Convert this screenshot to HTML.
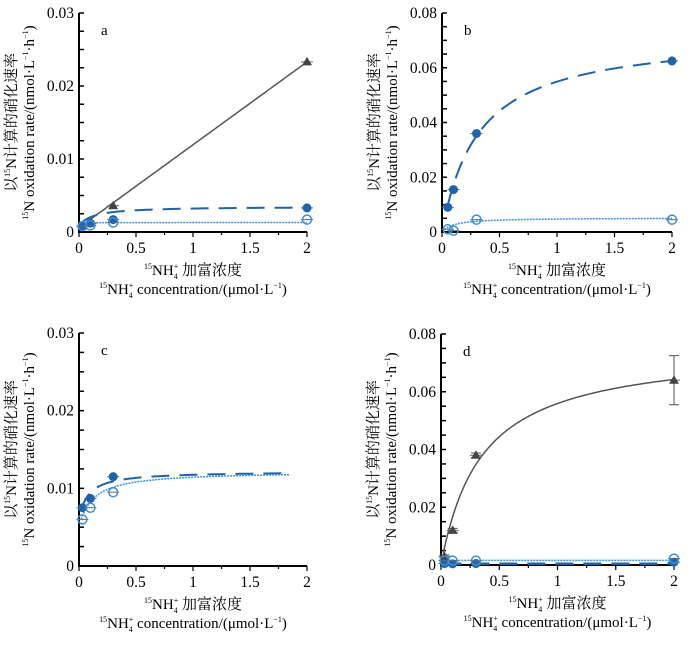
<!DOCTYPE html>
<html><head><meta charset="utf-8">
<style>
body{margin:0;background:#fff;}
svg{display:block;font-family:"Liberation Serif","Noto Serif CJK SC",serif;}
</style></head>
<body>
<svg id="chart" width="700" height="656" viewBox="0 0 700 656" xmlns="http://www.w3.org/2000/svg"></svg>
<script>
// Panel data (x: 15NH4+ concentration µmol/L, y: oxidation rate nmol/L/h)
const aTriX=[0.03,0.1,0.3,2];      const aTriY=[0.0008,0.0012,0.0036,0.0233];
const aFillX=[0.03,0.1,0.3,2];     const aFillY=[0.0008,0.0012,0.0017,0.0033];
const aOpenX=[0.03,0.1,0.3,2];     const aOpenY=[0.0008,0.0009,0.0013,0.0017];
const bFillX=[0.05,0.1,0.3,2];     const bFillY=[0.009,0.0155,0.036,0.0625];
const bOpenX=[0.05,0.1,0.3,2];     const bOpenY=[0.001,0.0005,0.0045,0.0045];
const cFillX=[0.03,0.1,0.3];       const cFillY=[0.0075,0.0087,0.0115];
const cOpenX=[0.03,0.1,0.3];       const cOpenY=[0.006,0.0075,0.0095];
const dTriX=[0.03,0.1,0.3,2];      const dTriY=[0.003,0.012,0.038,0.064];
const dTriErr=[0.0005,0.0007,0.0008,0.0085];
const dFillX=[0.03,0.1,0.3,2];     const dFillY=[0.0005,0.0004,0.0005,0.001];
const dOpenX=[0.03,0.1,0.3,2];     const dOpenY=[0.0015,0.0015,0.0015,0.0022];
const xTicks=[0,0.5,1,1.5,2];
const yTicksSmall=[0,0.01,0.02,0.03];
const yTicksLarge=[0,0.02,0.04,0.06,0.08];

const svg=document.getElementById('chart');
const NS='http://www.w3.org/2000/svg';
function mk(tag,attrs,parent){const e=document.createElementNS(NS,tag);for(const k in attrs)e.setAttribute(k,attrs[k]);(parent||svg).appendChild(e);return e;}
const BLUE='#1f64a8', LBLUE='#3d8fd6', GRAY='#555';

function panel(name,x0,x1,yTop,yBot,ymax,yticks,label){
  const g=mk('g',{});
  
  
  const sx=v=>x0+(x1-x0)*v/2, sy=v=>yBot-(yBot-yTop)*v/ymax;
  const ax=mk('path',{d:`M${x0},${yTop}V${yBot}H${x1}`,stroke:'#000','stroke-width':2,fill:'none'},g);
  
  
  const step=yticks[1]/4;
  for(let v=0;v<=ymax+1e-9;v+=step){const y=sy(v);mk('line',{x1:x0,x2:x0+5,y1:y,y2:y,stroke:'#000','stroke-width':1.5},g);}
  yticks.forEach(v=>{const t=mk('text',{x:x0-5,y:sy(v)+5,'text-anchor':'end','font-size':15.5},g);t.textContent=String(v);
    });
  for(let v=0;v<=2.001;v+=0.25){const x=sx(v);mk('line',{x1:x,x2:x,y1:yBot,y2:yBot+(Math.abs(v*2-Math.round(v*2))<1e-6?5:3),stroke:'#000','stroke-width':1.2},g);}
  xTicks.forEach(v=>{const t=mk('text',{x:sx(v),y:yBot+21,'text-anchor':'middle','font-size':15.5},g);t.textContent=String(v);
    });
  const pl=mk('text',{x:x0+22,y:yTop+22,'font-size':15},g);pl.textContent=label;
  
  const cx=(x0+x1)/2;
  const t1=mk('text',{x:cx,y:yBot+43,'text-anchor':'middle','font-size':15},g);
  t1.innerHTML='<tspan font-size="8" dy="-6">15</tspan><tspan dy="6">NH</tspan><tspan font-size="8" dy="4">4</tspan><tspan font-size="8" dx="-4" dy="-10">+</tspan><tspan dy="6"> 加富浓度</tspan>';
  
  const t2=mk('text',{x:cx,y:yBot+62,'text-anchor':'middle','font-size':15},g);
  t2.innerHTML='<tspan font-size="8" dy="-6">15</tspan><tspan dy="6">NH</tspan><tspan font-size="8" dy="4">4</tspan><tspan font-size="8" dx="-4" dy="-10">+</tspan><tspan dy="6"> concentration/(μmol·L</tspan><tspan font-size="8" dy="-6">−1</tspan><tspan dy="6">)</tspan>';
  
  const my=(yTop+yBot)/2, lx=x0-63;
  const y1=mk('text',{x:0,y:0,'text-anchor':'middle','font-size':15,transform:`translate(${lx},${my}) rotate(-90)`},g);
  y1.innerHTML='以<tspan font-size="8" dy="-6">15</tspan><tspan dy="6">N计算的硝化速率</tspan>';
  
  const y2=mk('text',{x:0,y:0,'text-anchor':'middle','font-size':15,transform:`translate(${lx+18},${my}) rotate(-90)`},g);
  y2.innerHTML='<tspan font-size="8" dy="-6">15</tspan><tspan dy="6">N oxidation rate/(nmol·L</tspan><tspan font-size="8" dy="-6">−1</tspan><tspan dy="6">·h</tspan><tspan font-size="8" dy="-6">−1</tspan><tspan dy="6">)</tspan>';
  
  return {g,sx,sy};
}
function curve(P,f,xa,xb,color,dash,w,name){
  let d='';for(let i=0;i<=100;i++){const x=xa+(xb-xa)*i/100;d+=(i?'L':'M')+P.sx(x).toFixed(1)+','+P.sy(f(x)).toFixed(1);}
  const p=mk('path',{d,stroke:color,'stroke-width':w,fill:'none','stroke-dasharray':dash},P.g);
  
}
function pts(P,xs,ys,kind,name,errs){
  xs.forEach((x,i)=>{
    const cx=P.sx(x), cy=P.sy(ys[i]);
    mk('line',{x1:cx-6,x2:cx+6,y1:cy,y2:cy,stroke:'#666','stroke-width':1},P.g);
    if(errs){const e=P.sy(ys[i]+errs[i]),e2=P.sy(ys[i]-errs[i]);mk('path',{d:`M${cx},${e}V${e2}M${cx-5},${e}H${cx+5}M${cx-5},${e2}H${cx+5}`,stroke:'#555',fill:'none'},P.g);}
    let m;
    if(kind==='tri') m=mk('path',{d:`M${cx},${cy-5}L${cx+5},${cy+3.5}L${cx-5},${cy+3.5}Z`,fill:'#444'},P.g);
    else if(kind==='fill') m=mk('circle',{cx,cy,r:4.5,fill:BLUE},P.g);
    else m=mk('circle',{cx,cy,r:4.5,fill:'none',stroke:LBLUE,'stroke-width':1.5},P.g);
    
  });
}
const mm=(V,K)=>x=>V*x/(K+x);
let P=panel('a',79,307,13,232,0.03,yTicksSmall,'a');
curve(P,x=>0.0006+0.01135*x,0.02,2,GRAY,'',1.5,'a-triangle-fit');
curve(P,x=>0.0008+mm(0.0027,0.12)(x),0.02,2,BLUE,'18,10',2,'a-filled-fit');
curve(P,x=>0.0012+0.0001*x/(0.05+x),0.02,2,LBLUE,'2,1',1.5,'a-open-fit');
pts(P,aTriX,aTriY,'tri','a-triangle');pts(P,aFillX,aFillY,'fill','a-filled');pts(P,aOpenX,aOpenY,'open','a-open');
P=panel('b',442,672,13,232,0.08,yTicksLarge,'b');
curve(P,mm(0.0725,0.32),0.05,2,BLUE,'18,10',2,'b-filled-fit');
curve(P,mm(0.0052,0.1),0.02,2,LBLUE,'2,1',1.5,'b-open-fit');
pts(P,bFillX,bFillY,'fill','b-filled');pts(P,bOpenX,bOpenY,'open','b-open');
P=panel('c',79,307,333,566,0.03,yTicksSmall,'c');
curve(P,x=>0.006+mm(0.0062,0.08)(x),0.02,1.85,BLUE,'18,10',2,'c-filled-fit');
curve(P,x=>0.005+mm(0.0072,0.12)(x),0.02,1.85,LBLUE,'2,1',1.5,'c-open-fit');
pts(P,cFillX,cFillY,'fill','c-filled');pts(P,cOpenX,cOpenY,'open','c-open');
P=panel('d',441,674,334,565,0.08,yTicksLarge,'d');
curve(P,mm(0.0755,0.35),0.02,2,GRAY,'',1.5,'d-triangle-fit');
curve(P,x=>0.0004,0.02,2,BLUE,'18,10',2.5,'d-filled-fit');
curve(P,x=>0.0016,0.02,2,LBLUE,'2,1',1.5,'d-open-fit');
pts(P,dTriX,dTriY,'tri','d-triangle',dTriErr);pts(P,dFillX,dFillY,'fill','d-filled');pts(P,dOpenX,dOpenY,'open','d-open');
</script>
</body></html>
